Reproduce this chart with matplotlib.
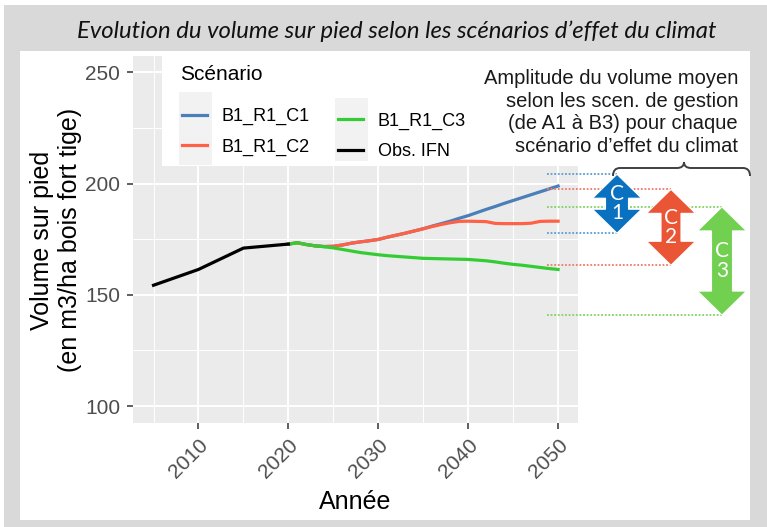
import matplotlib
matplotlib.use("Agg")
import matplotlib.pyplot as plt
import matplotlib.transforms as mtrans
from matplotlib.patches import Rectangle, Polygon, PathPatch
from matplotlib.path import Path
from matplotlib.lines import Line2D

# --- data ---
years_obs = [2005, 2010, 2015, 2020]
vol_obs = [154.3, 161.4, 171.0, 172.8]

years_sc = list(range(2020, 2051))
vol_c1 = [172.8, 173.4, 172.6, 172.0, 171.7, 171.8, 172.4, 173.2, 173.8, 174.3, 174.9,
          175.9, 176.8, 177.7, 178.7, 179.7, 180.9, 182.0, 183.1, 184.4, 185.6,
          187.0, 188.4, 189.7, 191.1, 192.4, 193.7, 195.0, 196.3, 197.6, 198.9]
vol_c2 = [172.8, 173.4, 172.6, 172.0, 171.7, 171.8, 172.4, 173.2, 173.8, 174.3, 174.9,
          175.9, 176.8, 177.7, 178.7, 179.7, 180.7, 181.6, 182.4, 183.0, 183.1,
          183.0, 182.9, 182.1, 182.0, 182.0, 182.0, 182.2, 183.0, 183.1, 183.1]
vol_c3 = [172.8, 173.4, 172.6, 172.0, 171.6, 171.1, 170.4, 169.7, 169.0, 168.5, 168.0,
          167.6, 167.3, 167.0, 166.7, 166.4, 166.3, 166.2, 166.1, 166.0, 165.9,
          165.6, 165.3, 164.8, 164.2, 163.7, 163.3, 162.8, 162.3, 161.8, 161.4]

# amplitude (min, max) of mean volume over management scenarios, per climate scenario
amp_labels = ["1", "2", "3"]
amp_low = [177.7, 163.3, 140.9]
amp_high = [204.2, 197.4, 189.5]

col_c1, col_c2, col_c3, col_obs = "#4a7fb8", "#ff6146", "#33cc33", "black"
arrow_cols = ["#0a70c0", "#ea5535", "#72d050"]
dot_cols = ["#5b9bd5", "#f07a6a", "#7fd35f"]

W, H = 767, 527
def fx(x):
    return x / W
def fy(y):
    return 1 - y / H

fig = plt.figure(figsize=(W / 100, H / 100), dpi=100, facecolor="white")

# frame like the slide
fig.patches.append(Rectangle((fx(4), 0), 1 - fx(4), fy(5), transform=fig.transFigure,
                             facecolor="#d9d9d9", edgecolor="none", zorder=-10))
fig.patches.append(Rectangle((fx(20), fy(520)), fx(750) - fx(20), fy(51) - fy(520),
                             transform=fig.transFigure, facecolor="white",
                             edgecolor="none", zorder=-9))

fig.text(fx(397), fy(31), "Evolution du volume sur pied selon les scénarios d\u2019effet du climat",
         ha="center", va="center", fontsize=17.2, style="italic", family=["Lato", "DejaVu Sans"],
         color="#111111")

ax = fig.add_axes([fx(133.3), fy(422.7), fx(578.3) - fx(133.3), fy(55.7) - fy(422.7)])
ax.set_facecolor("#ebebeb")
for s in ax.spines.values():
    s.set_visible(False)

lw = 2.3
l1, = ax.plot(years_sc, vol_c1, color=col_c1, lw=lw, label="B1_R1_C1", zorder=2)
l2, = ax.plot(years_sc, vol_c2, color=col_c2, lw=lw, label="B1_R1_C2", zorder=2)
l3, = ax.plot(years_sc, vol_c3, color=col_c3, lw=lw, label="B1_R1_C3", zorder=2)
l4, = ax.plot(years_obs, vol_obs, color=col_obs, lw=lw, label="Obs. IFN", zorder=2)

ax.set_xlim(2002.75, 2052.25)
ax.set_ylim(92.5, 257.5)
ax.set_xticks([2010, 2020, 2030, 2040, 2050])
ax.set_xticks([2005, 2015, 2025, 2035, 2045], minor=True)
ax.set_yticks([100, 150, 200, 250])
ax.set_yticks([125, 175, 225], minor=True)
ax.set_axisbelow(True)
ax.grid(which="major", color="white", lw=1.4)
ax.grid(which="minor", color="white", lw=0.7)
ax.tick_params(which="major", length=4, width=1.1, color="#333333", labelcolor="#4d4d4d",
               labelsize=15)
ax.tick_params(which="minor", length=0)
ax.tick_params(axis="y", pad=5.5)
ax.tick_params(axis="x", pad=5)
for lab in ax.get_yticklabels() + ax.get_xticklabels():
    lab.set_family(["Liberation Sans", "DejaVu Sans"])
for lab in ax.get_xticklabels():
    lab.set_rotation(45)
    lab.set_ha("right")
    lab.set_va("top")
    lab.set_rotation_mode("anchor")

fig.text(fx(355.5), fy(502), "Année", ha="center", va="center", fontsize=18,
         family=["Liberation Sans", "DejaVu Sans"])
fig.text(fx(56), fy(240), "Volume sur pied\n(en m3/ha bois fort tige)", ha="center",
         va="center", rotation=90, fontsize=18, linespacing=1.2, multialignment="center",
         family=["Liberation Sans", "DejaVu Sans"])

# white area behind legend / annotation text
ax.add_patch(Rectangle((fx(162), fy(166)), fx(600) - fx(162), fy(56) - fy(166),
                       transform=fig.transFigure, facecolor="white", edgecolor="none",
                       zorder=3, clip_on=False))
# legend key backgrounds
for x0, y0, y1 in [(179, 92, 165), (335, 98, 161)]:
    ax.add_patch(Rectangle((fx(x0), fy(y1)), fx(x0 + 33) - fx(x0), fy(y0) - fy(y1),
                           transform=fig.transFigure, facecolor="#f2f2f2",
                           edgecolor="none", zorder=4, clip_on=False))

fig.text(fx(180), fy(75), "Scénario", ha="left", va="center", fontsize=15,
         family=["Liberation Sans", "DejaVu Sans"], zorder=6)

leg_kw = dict(loc="upper left", bbox_transform=fig.transFigure, frameon=False,
              prop={"family": "Liberation Sans", "size": 13}, handlelength=1.4,
              handletextpad=0.8, labelspacing=0.75, borderaxespad=0, borderpad=0)
leg1 = ax.legend(handles=[l1, l2], bbox_to_anchor=(fx(182), fy(108)), **leg_kw)
leg1.set_zorder(5)
ax.add_artist(leg1)
leg2 = ax.legend(handles=[l3, l4], bbox_to_anchor=(fx(338), fy(112.5)), **leg_kw)
leg2.set_zorder(5)

fig.text(fx(738), fy(112.5),
         "Amplitude du volume moyen\nselon les scen. de gestion\n(de A1 à B3) pour chaque\nscénario d\u2019effet du climat",
         ha="right", va="center", multialignment="right", fontsize=14.5, linespacing=1.23,
         family=["Liberation Sans", "DejaVu Sans"], color="#1a1a1a", zorder=6)

# brace
bx = [613, 613, 620, 677, 684, 684, 684, 691, 743, 750, 750]
by = [176, 168, 168, 168, 168, 162, 168, 168, 168, 168, 176]
codes = [Path.MOVETO, Path.CURVE3, Path.CURVE3, Path.LINETO, Path.CURVE3, Path.CURVE3,
         Path.CURVE3, Path.CURVE3, Path.LINETO, Path.CURVE3, Path.CURVE3]
brace = Path([(fx(a), fy(b)) for a, b in zip(bx, by)], codes)
fig.patches.append(PathPatch(brace, transform=fig.transFigure, facecolor="none",
                             edgecolor="#404040", lw=1.4, zorder=6))

# dotted guides + double arrows (x in figure, y in data)
blend = mtrans.blended_transform_factory(fig.transFigure, ax.transData)
arrow_x = [617, 671, 722]
shaft_w = [23, 20, 21]
head_w = 49
head_l = 24 / 2.227
for i in range(3):
    for v in (amp_low[i], amp_high[i]):
        fig.lines.append(Line2D([fx(547), fx(arrow_x[i])], [v, v], transform=blend,
                                color=dot_cols[i], lw=1.3, ls=(0, (1, 1)), zorder=4))
for i in range(3):
    cx, sw = arrow_x[i], shaft_w[i]
    lo, hi = amp_low[i], amp_high[i]
    pts = [(cx, hi), (cx + head_w / 2, hi - head_l), (cx + sw / 2, hi - head_l),
           (cx + sw / 2, lo + head_l), (cx + head_w / 2, lo + head_l), (cx, lo),
           (cx - head_w / 2, lo + head_l), (cx - sw / 2, lo + head_l),
           (cx - sw / 2, hi - head_l), (cx - head_w / 2, hi - head_l)]
    fig.patches.append(Polygon([(fx(a), b) for a, b in pts], closed=True, transform=blend,
                               facecolor=arrow_cols[i], edgecolor="white", lw=0.8, zorder=7))
    mid = (lo + hi) / 2
    fig.text(fx(cx), mid, "C\n" + amp_labels[i], transform=blend, ha="center", va="center",
             color="white", fontsize=15, linespacing=0.95,
             family=["Lato", "DejaVu Sans"], zorder=8)

fig.savefig("out.png", dpi=100, facecolor=fig.get_facecolor())
